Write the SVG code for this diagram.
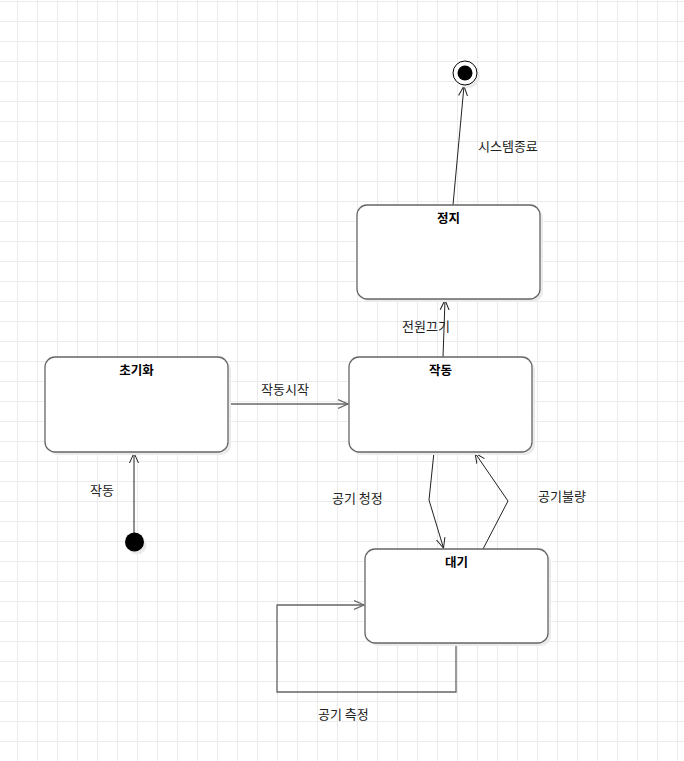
<svg xmlns="http://www.w3.org/2000/svg" width="684" height="761" viewBox="0 0 684 761">
<style>
.node rect.box{fill:#fff;stroke:#666;stroke-width:1.3}
.node rect.shadow{fill:#ebebeb;stroke:none}
.title{font-family:"Noto Sans CJK KR","Noto Sans",sans-serif;font-size:12.5px;font-weight:bold;fill:#000;text-anchor:middle;dominant-baseline:central}
.lbl{font-family:"Noto Sans CJK KR","Noto Sans",sans-serif;font-size:13px;fill:#222;dominant-baseline:central}
.edge{fill:none;stroke:#222;stroke-width:1}
.loop{fill:none;stroke:#666;stroke-width:1.3}
</style>
<defs>
<pattern id="grid" patternUnits="userSpaceOnUse" x="17" y="1" width="20" height="20">
<path d="M0 0.5H20M0.5 0V20" stroke="#ebebeb" stroke-width="1" fill="none"/>
</pattern>
<marker id="arr" markerUnits="userSpaceOnUse" markerWidth="20" markerHeight="20" viewBox="-10 -10 20 20" refX="0" refY="0" orient="auto">
<path d="M-10 -4.5L0 0L-10 4.5" fill="none" stroke="#222" stroke-width="1"/>
</marker>
<marker id="arrg" markerUnits="userSpaceOnUse" markerWidth="20" markerHeight="20" viewBox="-10 -10 20 20" refX="0" refY="0" orient="auto">
<path d="M-10 -4.5L0 0L-10 4.5" fill="none" stroke="#666" stroke-width="1.3"/>
</marker>
</defs>
<rect width="684" height="761" fill="#fff"/>
<rect width="684" height="761" fill="url(#grid)"/>

<g id="connectors">
<line class="edge" x1="134" y1="533" x2="134" y2="453" marker-end="url(#arr)"/>
<line class="loop" x1="228" y1="404" x2="348" y2="404" marker-end="url(#arrg)"/>
<line class="edge" x1="443" y1="357" x2="445" y2="300" marker-end="url(#arr)"/>
<line class="edge" x1="453" y1="205" x2="464" y2="86" marker-end="url(#arr)"/>
<polyline class="edge" points="434,452 429,500 443.5,548" marker-end="url(#arr)"/>
<polyline class="edge" points="483,549 508,501 475,453" marker-end="url(#arr)"/>
<polyline class="loop" points="456,643 456,692 277,692 277,605 364,605" marker-end="url(#arrg)"/>
</g>

<g id="labels">
<text class="lbl" x="478" y="145">시스템종료</text>
<text class="lbl" x="402" y="325">전원끄기</text>
<text class="lbl" x="261" y="388">작동시작</text>
<text class="lbl" x="90" y="489">작동</text>
<text class="lbl" x="332" y="497">공기 청정</text>
<text class="lbl" x="538" y="495">공기불량</text>
<text class="lbl" x="318" y="713">공기 측정</text>
</g>

<g id="initial">
<circle cx="137" cy="545" r="9.5" fill="#ebebeb"/>
<circle cx="134.5" cy="542" r="9.5" fill="#000"/>
</g>

<g id="final">
<circle cx="468" cy="76" r="12" fill="#ebebeb"/>
<circle cx="465" cy="73" r="12" fill="#fff" stroke="#000" stroke-width="1"/>
<circle cx="465" cy="73" r="7.5" fill="#000"/>
</g>

<g id="node-init" class="node">
<rect class="shadow" x="48" y="360" width="183" height="95" rx="10"/>
<rect class="box" x="45" y="357" width="183" height="95" rx="10"/>
<text class="title" x="136.5" y="369">초기화</text>
</g>

<g id="node-run" class="node">
<rect class="shadow" x="352" y="360" width="183" height="95" rx="10"/>
<rect class="box" x="349" y="357" width="183" height="95" rx="10"/>
<text class="title" x="440.5" y="369">작동</text>
</g>

<g id="node-stop" class="node">
<rect class="shadow" x="360" y="208" width="183" height="94" rx="10"/>
<rect class="box" x="357" y="205" width="183" height="94" rx="10"/>
<text class="title" x="448.5" y="217">정지</text>
</g>

<g id="node-wait" class="node">
<rect class="shadow" x="368" y="552" width="183" height="94" rx="10"/>
<rect class="box" x="365" y="549" width="183" height="94" rx="10"/>
<text class="title" x="456.5" y="561">대기</text>
</g>
</svg>
